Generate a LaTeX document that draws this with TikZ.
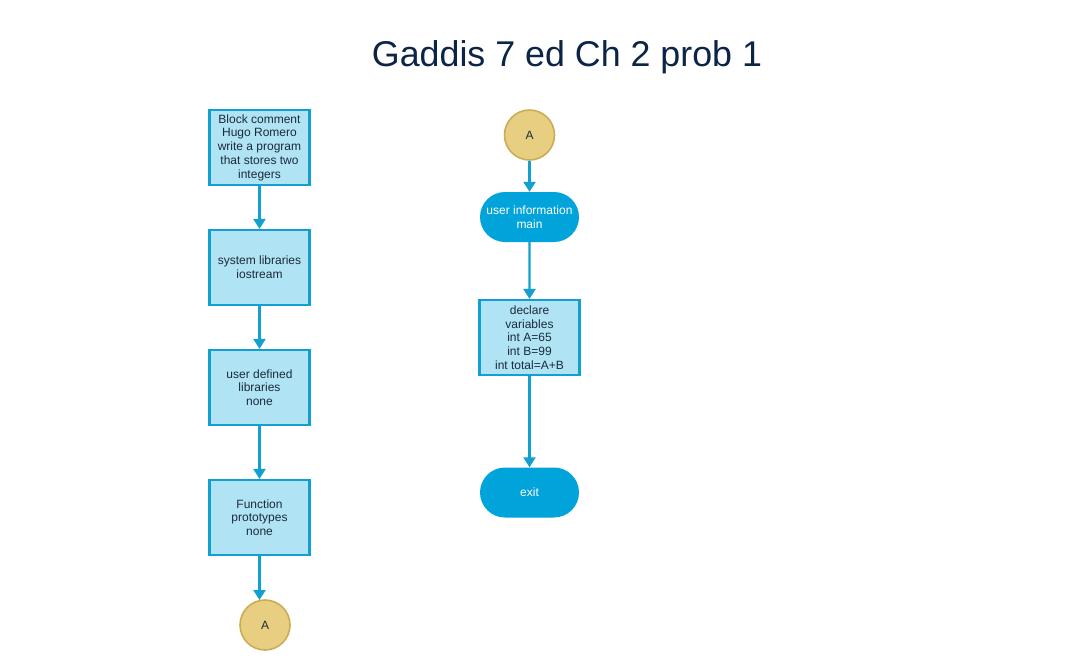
\documentclass[tikz,border=0pt]{standalone}
\usepackage{fontspec}
\setmainfont{Liberation Sans}
\usetikzlibrary{arrows.meta,shapes.misc}
\definecolor{boxfill}{HTML}{B0E3F3}
\definecolor{boxline}{HTML}{12A0D2}
\definecolor{termfill}{HTML}{00A3DA}
\definecolor{connfill}{HTML}{E8CE80}
\definecolor{connline}{HTML}{CBAC55}
\definecolor{txt}{HTML}{1B2B3C}
\definecolor{titlec}{HTML}{0C2445}
\tikzset{
  procbox/.style={draw=boxline, line width=2.2pt, fill=boxfill, text=txt, minimum width=100pt, minimum height=75pt, align=center, font=\fontsize{12}{13.7}\selectfont, inner sep=1pt},
  termbox/.style={rounded rectangle, fill=termfill, text=white, minimum width=101pt, minimum height=50pt, align=center, font=\fontsize{12}{13.7}\selectfont, inner sep=1pt},
  conn/.style={circle, draw=connline, line width=1.6pt, fill=connfill, text=txt, minimum size=50pt, inner sep=0pt, font=\fontsize{12}{13.7}\selectfont},
  flow/.style={draw=boxline, line width=2.4pt, -{Triangle[length=10pt,width=12pt]}}
}
\begin{document}
\begin{tikzpicture}[x=1pt,y=-1pt]
\useasboundingbox (0,0) rectangle (1086,670);
\node[text=titlec, font=\fontsize{35.8}{40}\selectfont] (title) at (567,57) {Gaddis 7 ed Ch 2 prob 1};
\node[procbox] (b1) at (259.5,147.5) {Block comment\\Hugo Romero\\write a program\\that stores two\\integers};
\node[procbox] (b2) at (259.5,267.5) {system libraries\\iostream};
\node[procbox] (b3) at (259.5,387.5) {user defined\\libraries\\none};
\node[procbox] (b4) at (259.5,517.5) {Function\\prototypes\\none};
\node[conn] (a1) at (265,625) {A};
\coordinate (a1top) at (260,600);
\node[conn] (a2) at (529.5,135) {A};
\node[termbox] (t1) at (529.5,217) {user information\\main};
\node[procbox] (b5) at (529.5,337.5) {declare\\variables\\int A=65\\int B=99\\int total=A+B};
\node[termbox] (t2) at (529.5,492.5) {exit};
\draw[flow] (b1) -- (b2);
\draw[flow] (b2) -- (b3);
\draw[flow] (b3) -- (b4);
\draw[flow] (b4.south) -- (b4.south |- a1top);
\draw[flow] (a2) -- (t1);
\draw[flow] (t1) -- (b5);
\draw[flow] (b5) -- (t2);
\end{tikzpicture}
\end{document}
